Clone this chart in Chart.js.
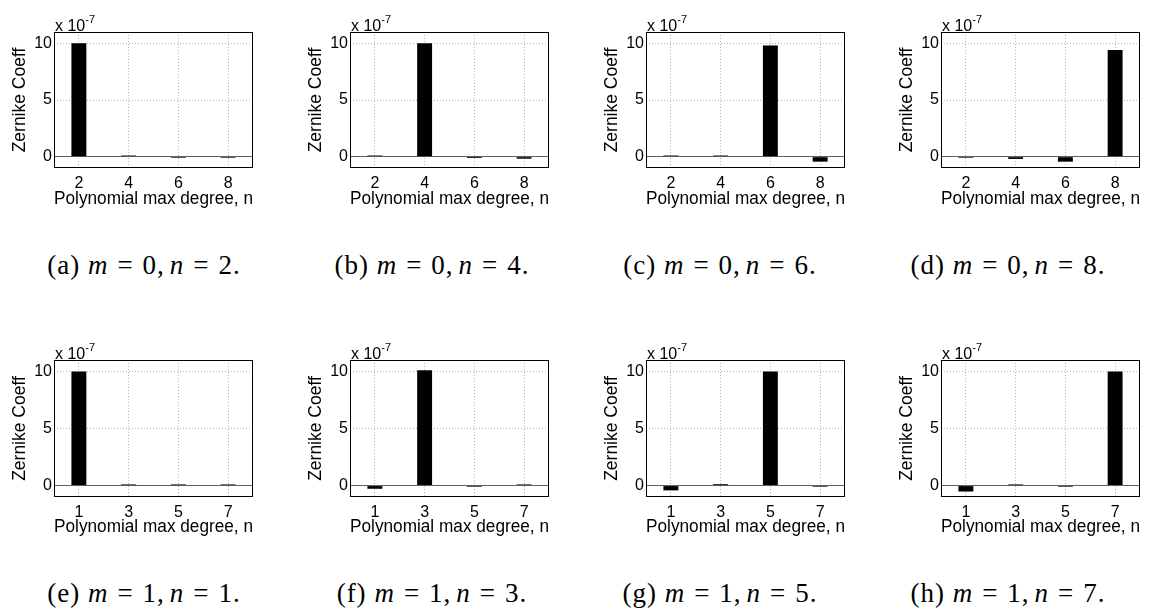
<!DOCTYPE html>
<html>
<head>
<meta charset="utf-8">
<script src="https://cdn.jsdelivr.net/npm/chart.js@4.4.1/dist/chart.umd.min.js"></script>
<style>
  html, body { margin: 0; padding: 0; background: #fff; overflow: hidden; }
  #wrap { position: relative; width: 1152px; height: 609px; }
  canvas { position: absolute; }
  .mult { position: absolute; font-family: "Liberation Sans", Arial, sans-serif; font-size: 16px; color: #000; line-height: 1; white-space: nowrap; }
  .mult sup { font-size: 11px; position: relative; top: -2px; }
  .cap { position: absolute; width: 288px; text-align: center; font-family: "Liberation Serif", "Times New Roman", serif; font-size: 27px; letter-spacing: 1px; color: #000; line-height: 1; white-space: nowrap; }
  .cap i { font-style: italic; }
  .cap .eq { padding: 0 9px; }
  .cap .th { padding-left: 5px; }
</style>
</head>
<body>
<div id="wrap"></div>
<script>
// ---- data (coefficients in units of 1e-7) ----
const evenDegrees = ['2', '4', '6', '8'];
const oddDegrees  = ['1', '3', '5', '7'];
const yTickValues = [0, 5, 10];

const coeffA = [10.0, 0.1, -0.1, -0.1];
const coeffB = [0.1, 10.0, -0.12, -0.18];
const coeffC = [0.1, 0.1, 9.8, -0.44];
const coeffD = [-0.1, -0.2, -0.44, 9.42];
const coeffE = [10.0, 0.1, 0.1, 0.1];
const coeffF = [-0.28, 10.1, -0.1, 0.1];
const coeffG = [-0.42, 0.12, 10.0, -0.1];
const coeffH = [-0.52, 0.1, -0.1, 10.0];

const captionLetters = ['a', 'b', 'c', 'd', 'e', 'f', 'g', 'h'];
const captionM = [0, 0, 0, 0, 1, 1, 1, 1];
const captionN = [2, 4, 6, 8, 1, 3, 5, 7];

const xTitle = 'Polynomial max degree, n';
const yTitle = 'Zernike Coeff';

// ---- layout ----
const panelDefs = [
  { labels: evenDegrees, values: coeffA },
  { labels: evenDegrees, values: coeffB },
  { labels: evenDegrees, values: coeffC },
  { labels: evenDegrees, values: coeffD },
  { labels: oddDegrees,  values: coeffE },
  { labels: oddDegrees,  values: coeffF },
  { labels: oddDegrees,  values: coeffG },
  { labels: oddDegrees,  values: coeffH }
];
const areaLefts = [54, 350, 646, 941];
const rowTops = [32, 360];
const areaHeights = [136, 137];
const capTops = [252, 580];
const AREA_W = 199;
const Y_AXIS_W = 54;
const CANVAS_W = 265;
const CANVAS_H = 210;

const boxPlugin = {
  id: 'box',
  afterDatasetsDraw(chart) {
    const a = chart.chartArea;
    const ctx = chart.ctx;
    ctx.save();
    ctx.strokeStyle = '#000';
    ctx.lineWidth = 1;
    ctx.strokeRect(Math.round(a.left) + 0.5, Math.round(a.top) + 0.5,
                   Math.round(a.right - a.left) - 1, Math.round(a.bottom - a.top) - 1);
    ctx.restore();
  }
};

const wrap = document.getElementById('wrap');

panelDefs.forEach((p, i) => {
  const row = Math.floor(i / 4), col = i % 4;
  const areaLeft = areaLefts[col];
  const areaTop = rowTops[row];
  const canvasLeft = areaLeft - Y_AXIS_W;
  const canvasTop = areaTop - 32;
  const cv = document.createElement('canvas');
  cv.width = CANVAS_W; cv.height = CANVAS_H;
  cv.style.left = canvasLeft + 'px';
  cv.style.top = canvasTop + 'px';
  cv.style.width = CANVAS_W + 'px';
  cv.style.height = CANVAS_H + 'px';
  wrap.appendChild(cv);

  const xAxisH = CANVAS_H - 32 - areaHeights[row];

  new Chart(cv.getContext('2d'), {
    type: 'bar',
    data: {
      labels: p.labels,
      datasets: [{
        data: p.values,
        backgroundColor: '#000',
        borderColor: '#000',
        borderWidth: 0,
        barPercentage: 0.3,
        categoryPercentage: 1.0
      }]
    },
    options: {
      responsive: false,
      animation: false,
      devicePixelRatio: 1,
      layout: { padding: { top: 32, right: CANVAS_W - Y_AXIS_W - AREA_W, bottom: 0, left: 0 } },
      plugins: { legend: { display: false }, tooltip: { enabled: false }, title: { display: false } },
      scales: {
        x: {
          offset: true,
          afterFit: (s) => { s.height = xAxisH; },
          grid: {
            offset: false,
            drawTicks: false,
            color: '#b4b4b4',
            lineWidth: 1
          },
          border: { display: false, dash: [1, 2] },
          ticks: {
            color: '#000',
            padding: 6,
            font: { family: 'Liberation Sans', size: 16 }
          },
          title: {
            display: true,
            text: xTitle,
            color: '#000',
            font: { family: 'Liberation Sans', size: 17.5 },
            padding: { top: 0, bottom: 0 }
          }
        },
        y: {
          min: -1,
          max: 11,
          afterFit: (s) => { s.width = Y_AXIS_W; },
          afterBuildTicks: (s) => { s.ticks = yTickValues.map(v => ({ value: v })); },
          grid: {
            drawTicks: false,
            color: (ctx) => ctx.tick && ctx.tick.value === 0 ? '#606060' : '#b4b4b4',
            lineWidth: 1
          },
          border: {
            display: false,
            dash: (ctx) => ctx.tick && ctx.tick.value === 0 ? [] : [1, 2]
          },
          ticks: {
            color: '#000',
            padding: 2,
            font: { family: 'Liberation Sans', size: 16 },
            callback: (v) => String(v)
          },
          title: {
            display: true,
            text: yTitle,
            color: '#000',
            font: { family: 'Liberation Sans', size: 17.5 },
            padding: { top: 10, bottom: 0 }
          }
        }
      }
    },
    plugins: [boxPlugin]
  });

  const m = document.createElement('div');
  m.className = 'mult';
  m.style.left = (areaLeft + 1) + 'px';
  m.style.top = (areaTop - 16) + 'px';
  m.innerHTML = 'x 10<sup>-7</sup>';
  wrap.appendChild(m);

  const c = document.createElement('div');
  c.className = 'cap';
  c.style.left = (col * 288) + 'px';
  c.style.top = capTops[row] + 'px';
  c.innerHTML = '(' + captionLetters[i] + ') <i>m</i><span class="eq">=</span>' + captionM[i] +
                ',<span class="th"></span><i>n</i><span class="eq">=</span>' + captionN[i] + '.';
  wrap.appendChild(c);
});
</script>
</body>
</html>
